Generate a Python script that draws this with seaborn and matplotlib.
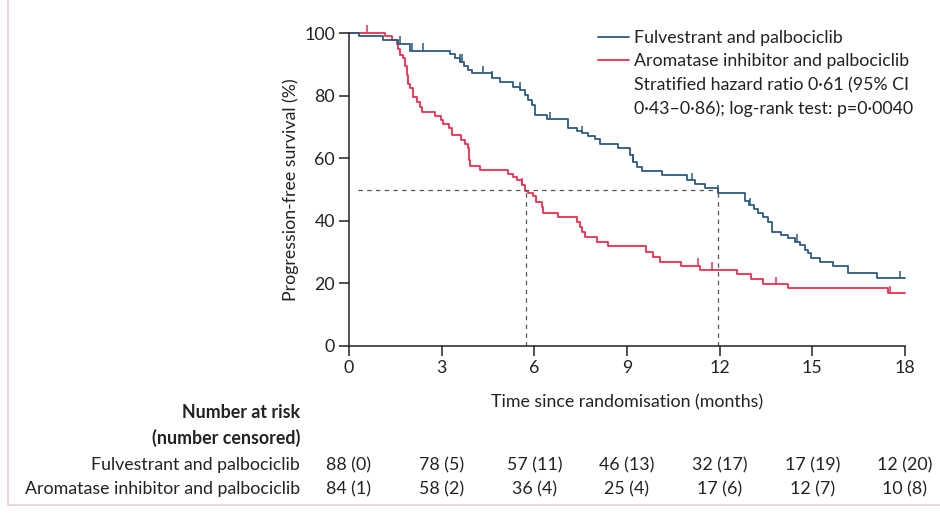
import numpy as np
import pandas as pd
import matplotlib
matplotlib.use("Agg")
import matplotlib.pyplot as plt
from matplotlib.lines import Line2D
from matplotlib.transforms import blended_transform_factory
import seaborn as sns

# Kaplan-Meier step curves (months, % progression-free)
fulv_time = [0, 0.33, 1.10, 1.60, 1.97, 3.27, 3.42, 3.58, 3.72, 3.85, 3.97,
             4.62, 4.89, 5.32, 5.53, 5.70, 5.80, 5.91, 6.02, 6.40, 7.10, 7.37,
             7.53, 7.75, 7.96, 8.12, 8.72, 9.09, 9.20, 9.31, 9.47, 10.12, 10.93,
             11.20, 11.52, 11.95, 12.82, 12.95, 13.10, 13.25, 13.40, 13.55,
             13.68, 14.00, 14.22, 14.43, 14.60, 14.76, 14.87, 14.97, 15.24,
             15.67, 16.16, 17.08, 18.0]
fulv_surv = [100, 98.9, 97.7, 96.6, 94.3, 93.2, 92.0, 90.8, 89.6, 88.3, 87.1,
             85.5, 84.5, 82.9, 81.8, 80.2, 78.6, 77.0, 73.8, 72.4, 69.5, 68.8,
             67.9, 67.1, 66.0, 64.4, 63.1, 61.0, 58.9, 57.3, 56.0, 54.6, 53.0,
             51.8, 50.4, 48.9, 46.2, 45.0, 43.7, 42.4, 41.3, 39.7,
             36.5, 35.5, 34.4, 33.3, 32.3, 30.7, 29.6, 28.0, 26.9,
             25.6, 23.4, 21.6, 21.6]

ai_time = [0, 1.17, 1.38, 1.54, 1.60, 1.65, 1.76, 1.81, 1.87, 1.90, 1.97,
           2.08, 2.19, 2.30, 2.35, 2.80, 2.97, 3.05, 3.24, 3.32, 3.62, 3.75,
           3.86, 3.90, 3.93, 4.24, 5.16, 5.32, 5.45, 5.59, 5.70, 5.80, 5.97,
           6.07, 6.24, 6.29, 6.77, 7.37, 7.48, 7.53, 7.64, 8.02, 8.39, 9.52,
           9.63, 9.85, 10.06, 10.76, 11.36, 12.55, 13.03, 13.41, 14.20, 17.46,
           18.0]
ai_surv = [100, 99.0, 97.8, 96.4, 95.0, 93.0, 91.9, 89.3, 86.6, 83.6, 82.3,
           79.7, 78.1, 76.5, 74.7, 73.6, 72.2, 70.8, 69.5, 67.4, 65.9, 64.4,
           63.1, 59.4, 57.4, 56.3, 55.0, 53.9, 52.9, 51.4, 49.6, 48.8, 47.9,
           46.1, 44.5, 42.6, 41.1, 39.7, 38.1, 36.5, 34.7, 33.3, 31.9, 31.9,
           30.1, 28.5, 26.9, 25.6, 24.3, 23.0, 21.3, 19.8, 18.4, 16.8,
           16.8]

# Censoring times
fulv_censor = [1.65, 2.03, 2.41, 3.60, 3.66, 4.35, 4.62, 5.53, 6.50, 7.53,
               9.20, 11.09, 11.95, 12.98, 14.49, 17.83]
ai_censor = [0.57, 5.59, 11.30, 11.74, 13.82, 17.50]

# Medians marked with dashed guides
medians = [5.73, 11.95]

series_names = ["Fulvestrant and palbociclib",
                "Aromatase inhibitor and palbociclib"]
stats_lines = ["Stratified hazard ratio 0\u00b761 (95% CI",
               "0\u00b743\u20130\u00b786); log-rank test: p=0\u00b70040"]

# Number at risk (number censored)
risk_times = [0, 3, 6, 9, 12, 15, 18]
fulv_risk = ["88 (0)", "78 (5)", "57 (11)", "46 (13)", "32 (17)", "17 (19)", "12 (20)"]
ai_risk = ["84 (1)", "58 (2)", "36 (4)", "25 (4)", "17 (6)", "12 (7)", "10 (8)"]

x_ticks = [0, 3, 6, 9, 12, 15, 18]
y_ticks = [0, 20, 40, 60, 80, 100]

BLUE = "#2d5a80"
RED = "#e8304f"
DARK = "#222222"
FS = 12.8

sns.set_theme(style="white")
plt.rcParams["font.family"] = ["Lato", "DejaVu Sans"]

fig = plt.figure(figsize=(9.4, 5.13), dpi=100)
ax = fig.add_axes([349 / 940, 1 - 346 / 513, 556 / 940, 313 / 513])

df_f = pd.DataFrame({"t": fulv_time, "s": fulv_surv})
df_a = pd.DataFrame({"t": ai_time, "s": ai_surv})
sns.lineplot(data=df_a, x="t", y="s", ax=ax, color=RED, lw=1.3,
             drawstyle="steps-post", estimator=None, sort=False, clip_on=False)
sns.lineplot(data=df_f, x="t", y="s", ax=ax, color=BLUE, lw=1.3,
             drawstyle="steps-post", estimator=None, sort=False, clip_on=False)


def surv_at(times, survs, t):
    idx = np.searchsorted(np.asarray(times), t, side="right") - 1
    return np.asarray(survs)[idx]


for times, survs, cens, col in [(ai_time, ai_surv, ai_censor, RED),
                                (fulv_time, fulv_surv, fulv_censor, BLUE)]:
    ys = np.array([surv_at(times, survs, c) for c in cens])
    ax.vlines(cens, ys, ys + 2.4, colors=col, lw=1.1, clip_on=False)

# Median guides
dash = dict(color="#555555", lw=0.9, ls=(0, (3.5, 3.5)))
ax.plot([0.3, max(medians)], [50, 50], **dash)
for m in medians:
    ax.plot([m, m], [0, 50], **dash)

ax.set_xlim(0, 18)
ax.set_ylim(0, 100)
ax.set_xticks(x_ticks)
ax.set_yticks(y_ticks)
ax.set_xlabel("Time since randomisation (months)", fontsize=FS, color=DARK, labelpad=13)
ax.set_ylabel("Progression-free survival (%)", fontsize=FS, color=DARK, labelpad=4)
sns.despine(ax=ax)
for sp in ["left", "bottom"]:
    ax.spines[sp].set_color(DARK)
    ax.spines[sp].set_linewidth(1.1)
ax.tick_params(axis="both", which="major", direction="out", length=7, width=1.1,
               color=DARK, labelsize=FS, labelcolor=DARK, pad=3,
               bottom=True, left=True)

# Legend with statistics lines
handles = [Line2D([], [], color=BLUE, lw=1.3), Line2D([], [], color=RED, lw=1.3),
           Line2D([], [], color="none"), Line2D([], [], color="none")]
labels = series_names + stats_lines
leg = ax.legend(handles, labels, loc="upper left",
                bbox_to_anchor=(598 / 940, 1 - 30 / 513), bbox_transform=fig.transFigure,
                frameon=False, fontsize=FS, handlelength=1.75, handletextpad=0.25,
                borderpad=0, borderaxespad=0, labelspacing=0.42)
for t in leg.get_texts():
    t.set_color(DARK)

# Number-at-risk table
tr = blended_transform_factory(ax.transData, fig.transFigure)
label_x = 300 / 940
fig.text(label_x, 1 - 413 / 513, "Number at risk", ha="right", va="center",
         fontsize=FS, fontweight="bold", color=DARK)
fig.text(label_x, 1 - 438 / 513, "(number censored)", ha="right", va="center",
         fontsize=FS, fontweight="bold", color=DARK)
row_y = [1 - 465 / 513, 1 - 489 / 513]
for name, ry, vals in zip(series_names, row_y, [fulv_risk, ai_risk]):
    fig.text(label_x, ry, name, ha="right", va="center", fontsize=FS, color=DARK)
    for t, v in zip(risk_times, vals):
        ax.text(t, ry, v, transform=tr, ha="center", va="center", fontsize=FS,
                color=DARK, clip_on=False)

# Page frame edges
fig.add_artist(Line2D([8 / 940, 8 / 940], [1 - 505 / 513, 1], transform=fig.transFigure,
                      color="#f3c9cf", lw=1.2))
fig.add_artist(Line2D([8 / 940, 1], [1 - 505 / 513, 1 - 505 / 513], transform=fig.transFigure,
                      color="#f3c9cf", lw=1.2))

fig.savefig("out.png", dpi=100)
